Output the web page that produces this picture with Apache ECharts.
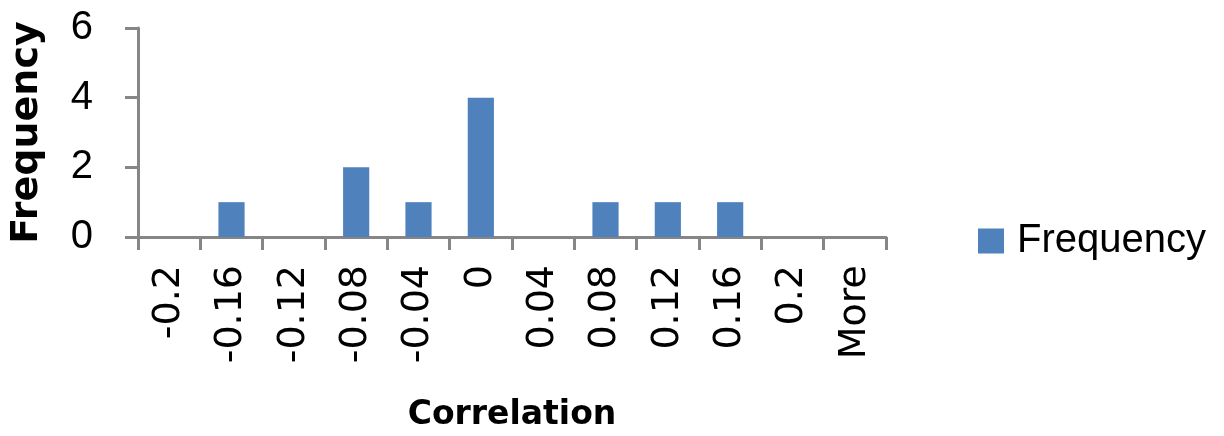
<!DOCTYPE html>
<html>
<head>
<meta charset="utf-8">
<script src="https://cdn.jsdelivr.net/npm/echarts@6/dist/echarts.min.js"></script>
<style>
html,body{margin:0;padding:0;background:#fff;}
#chart{width:1224px;height:436px;}
</style>
</head>
<body>
<div id="chart"></div>
<script>
const categories = ['-0.2', '-0.16', '-0.12', '-0.08', '-0.04', '0', '0.04', '0.08', '0.12', '0.16', '0.2', 'More'];
const frequency = [0, 1, 0, 2, 1, 4, 0, 1, 1, 1, 0, 0];
const yTicks = { min: 0, max: 6, interval: 2 };

const chart = echarts.init(document.getElementById('chart'));
const axisGray = '#868686';
chart.setOption({
  animation: false,
  backgroundColor: '#ffffff',
  grid: { left: 138, right: 338, top: 28, bottom: 199, containLabel: false },
  legend: {
    data: ['Frequency'],
    left: 973,
    top: 216,
    itemWidth: 26,
    itemHeight: 25,
    icon: 'rect',
    textStyle: { fontFamily: 'Liberation Sans', fontSize: 40, color: '#000', padding: [0, 0, 0, 8] }
  },
  xAxis: {
    type: 'category',
    data: categories,
    name: 'Correlation',
    nameLocation: 'middle',
    nameGap: 162,
    nameTextStyle: { fontFamily: 'DejaVu Sans', fontWeight: 'bold', fontSize: 33, color: '#000' },
    axisLine: { lineStyle: { color: axisGray, width: 3 } },
    axisTick: { show: true, length: 13, lineStyle: { color: axisGray, width: 3 } },
    axisLabel: { rotate: 90, margin: 28, fontFamily: 'DejaVu Sans', fontSize: 38, color: '#000', interval: 0 },
    splitLine: { show: false }
  },
  yAxis: {
    type: 'value',
    min: yTicks.min,
    max: yTicks.max,
    interval: yTicks.interval,
    name: 'Frequency',
    nameLocation: 'middle',
    nameGap: 92,
    nameRotate: 90,
    nameTextStyle: { fontFamily: 'DejaVu Sans', fontWeight: 'bold', fontSize: 38, color: '#000' },
    axisLine: { show: true, lineStyle: { color: axisGray, width: 3 } },
    axisTick: { show: true, length: 13, lineStyle: { color: axisGray, width: 3 } },
    axisLabel: { margin: 45, fontFamily: 'Liberation Sans', fontSize: 40, color: '#000' },
    splitLine: { show: false }
  },
  series: [{
    name: 'Frequency',
    type: 'bar',
    data: frequency,
    barCategoryGap: '58%',
    itemStyle: { color: '#4F81BD' }
  }]
});
</script>
</body>
</html>
